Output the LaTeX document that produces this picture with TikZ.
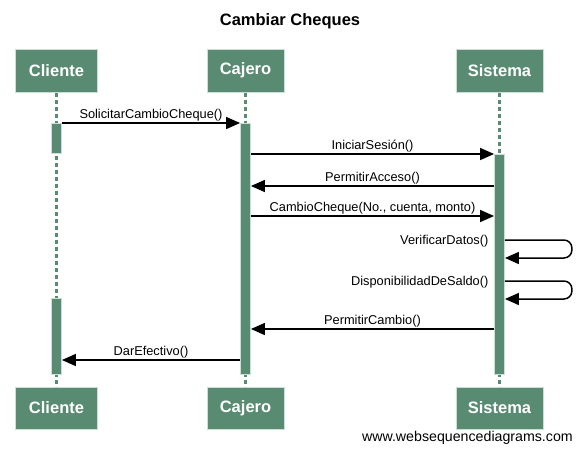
\documentclass[tikz,border=0pt]{standalone}
\usepackage{fontspec}
\setmainfont{Liberation Sans}
\usetikzlibrary{arrows.meta}
\definecolor{wsdgreen}{RGB}{89,139,115}
\definecolor{wsdedge}{RGB}{205,222,213}
\begin{document}
\begin{tikzpicture}[x=1pt,y=-1pt,
 actor/.style={rectangle, fill=wsdgreen, draw=wsdedge, line width=1pt, minimum height=43pt, inner sep=0pt, text=white, font=\fontsize{16.5}{18}\selectfont\bfseries},
 actbar/.style={rectangle, fill=wsdgreen, draw=wsdedge, line width=0.8pt, minimum width=10pt, inner sep=0pt},
 lifeline/.style={draw=wsdgreen, line width=2.8pt, dash pattern=on 4pt off 3pt},
 msg/.style={draw=black, line width=1.5pt, -{Triangle[length=14pt,width=12pt]}},
 lbl/.style={font=\fontsize{12.8}{14}\selectfont, text=black, inner sep=1.5pt},
]
\useasboundingbox (0,0) rectangle (581,453);
\fill[white] (0,0) rectangle (581,453);

\node[font=\fontsize{16.5}{18}\selectfont\bfseries] (title) at (290,21) {Cambiar Cheques};

% actors
\node[actor, minimum width=82pt] (clT) at (56.5,70.5) {Cliente};
\node[actor, minimum width=77pt] (caT) at (245.5,70.5) {Cajero};
\node[actor, minimum width=87pt] (siT) at (499.5,70.5) {Sistema};
\node[actor, minimum width=82pt, minimum height=42pt] (clB) at (56.5,408) {Cliente};
\node[actor, minimum width=77pt, minimum height=42pt] (caB) at (245.5,408) {Cajero};
\node[actor, minimum width=87pt, minimum height=42pt] (siB) at (499.5,408) {Sistema};

% lifelines
\draw[lifeline] (clT.south) -- (clB.north);
\draw[lifeline] (caT.south) -- (caB.north);
\draw[lifeline] (siT.south) -- (siB.north);

% activations
\node[actbar, minimum height=30pt] (clA1) at (56.5,138) {};
\node[actbar, minimum height=76pt] (clA2) at (56.5,336) {};
\node[actbar, minimum height=251pt] (caA) at (245.5,248.5) {};
\node[actbar, minimum height=220pt] (siA) at (499.5,264) {};

% message rows
\coordinate (r1) at (0,123);
\coordinate (r2) at (0,154);
\coordinate (r3) at (0,186);
\coordinate (r4) at (0,216);
\coordinate (r5) at (0,240);
\coordinate (r5b) at (0,258);
\coordinate (r6) at (0,281);
\coordinate (r6b) at (0,299);
\coordinate (r7) at (0,329);
\coordinate (r8) at (0,360);

\draw[msg] (clA1.east |- r1) -- node[lbl, above] {SolicitarCambioCheque()} (caA.west |- r1);
\draw[msg] (caA.east |- r2) -- node[lbl, above] {IniciarSesión()} (siA.west |- r2);
\draw[msg] (siA.west |- r3) -- node[lbl, above] {PermitirAcceso()} (caA.east |- r3);
\draw[msg] (caA.east |- r4) -- node[lbl, above] {CambioCheque(No., cuenta, monto)} (siA.west |- r4);

\draw[msg, rounded corners=8pt] (siA.east |- r5) -- ++(67,0) -- ++(0,18) -- (siA.east |- r5b);
\node[lbl, anchor=east, xshift=-4pt, yshift=-1pt] (l5) at (siA.west |- r5) {VerificarDatos()};
\draw[msg, rounded corners=8pt] (siA.east |- r6) -- ++(67,0) -- ++(0,18) -- (siA.east |- r6b);
\node[lbl, anchor=east, xshift=-4pt, yshift=-1pt] (l6) at (siA.west |- r6) {DisponibilidadDeSaldo()};

\draw[msg] (siA.west |- r7) -- node[lbl, above] {PermitirCambio()} (caA.east |- r7);
\draw[msg] (caA.west |- r8) -- node[lbl, above] {DarEfectivo()} (clA2.east |- r8);

\node[anchor=east, inner sep=0pt, font=\fontsize{14.2}{16}\selectfont] (footer) at (573,438) {www.websequencediagrams.com};
\end{tikzpicture}
\end{document}
